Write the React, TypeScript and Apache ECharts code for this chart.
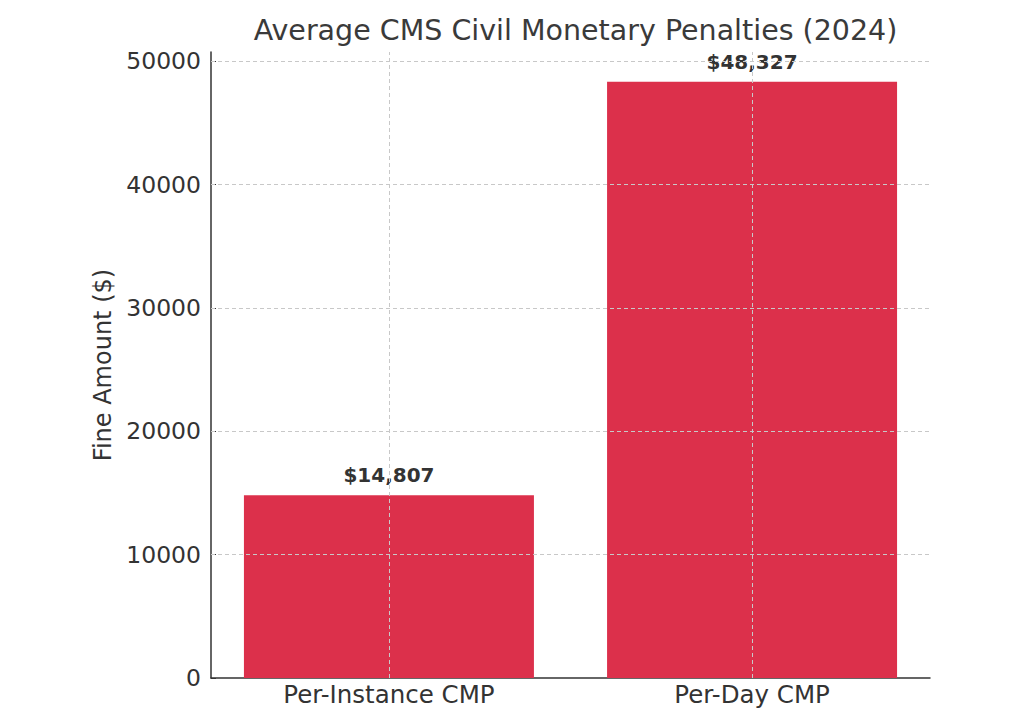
import React, { useEffect, useRef } from "react";
import * as echarts from "echarts";

const categories = ["Per-Instance CMP", "Per-Day CMP"];
const fineValues = [14807, 48327];
const barLabels = ["$14,807", "$48,327"];
const yTicks = [0, 10000, 20000, 30000, 40000, 50000];
const xTicks = [0, 1];

const FONT = "DejaVu Sans";
const TEXT = "#333333";
const GRIDC = "#c8c8c8";

export default function App() {
  const ref = useRef<HTMLDivElement>(null);
  useEffect(() => {
    if (!ref.current) return;
    const chart = echarts.init(ref.current, undefined, { renderer: "svg" });
    const gridLines = [
      ...xTicks.map((v) => ({ xAxis: v })),
      ...yTicks.filter((v) => v > 0).map((v) => ({ yAxis: v })),
    ];
    chart.setOption({
      animation: false,
      backgroundColor: "#ffffff",
      title: {
        text: "Average CMS Civil Monetary Penalties (2024)",
        left: 562.5,
        top: 3,
        textAlign: "center",
        textStyle: { fontFamily: FONT, fontSize: 28.5, fontWeight: "normal", color: "#3a3a3a" },
      },
      grid: { left: 203, right: 86, top: 44, bottom: 41 },
      xAxis: {
        type: "value",
        min: -0.49,
        max: 1.49,
        axisLine: { show: true, onZero: false, lineStyle: { color: TEXT, width: 1.5 } },
        axisTick: { show: true, inside: true, length: 5, customValues: xTicks, lineStyle: { color: TEXT } },
        axisLabel: {
          customValues: xTicks,
          formatter: (v: number) => categories[Math.round(v)] ?? "",
          fontFamily: FONT,
          fontSize: 24.5,
          color: TEXT,
          margin: 4,
        },
        splitLine: { show: false },
      },
      yAxis: {
        type: "value",
        min: 0,
        max: fineValues[1] * 1.05,
        name: "Fine Amount ($)",
        nameLocation: "middle",
        nameGap: 96,
        nameTextStyle: { fontFamily: FONT, fontSize: 24, color: TEXT },
        axisLine: { show: true, onZero: false, lineStyle: { color: TEXT, width: 1.5 } },
        axisTick: { show: true, inside: true, length: 5, customValues: yTicks, lineStyle: { color: TEXT } },
        axisLabel: {
          customValues: yTicks,
          formatter: (v: number) => String(v),
          fontFamily: FONT,
          fontSize: 23.5,
          color: TEXT,
          margin: 10,
        },
        splitLine: { show: false },
      },
      series: [
        {
          type: "bar",
          barWidth: 290,
          data: fineValues.map((v, i) => [i, v]),
          itemStyle: { color: "#DC304B" },
          label: {
            show: true,
            position: "top",
            distance: 10,
            formatter: (p: any) => barLabels[p.dataIndex],
            fontFamily: FONT,
            fontSize: 20,
            fontWeight: "bold",
            color: TEXT,
          },
          markLine: {
            silent: true,
            symbol: "none",
            label: { show: false },
            lineStyle: { color: GRIDC, type: [4, 3], width: 1 },
            data: gridLines,
          },
        },
      ],
    });
    return () => chart.dispose();
  }, []);
  return <div ref={ref} style={{ width: 1008, height: 711 }} />;
}
